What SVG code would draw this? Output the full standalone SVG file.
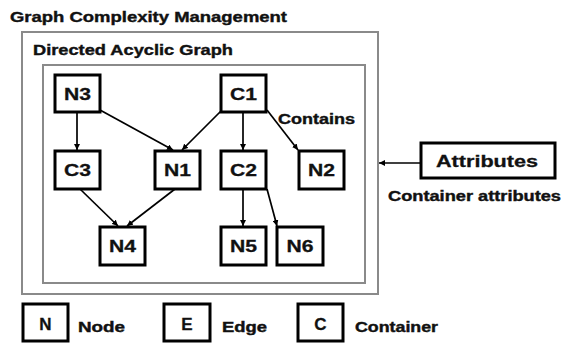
<svg xmlns="http://www.w3.org/2000/svg" width="562" height="345" viewBox="0 0 562 345">
<defs>
<marker id="ah" viewBox="0 0 10 10" refX="10" refY="5" markerWidth="6" markerHeight="6" orient="auto" markerUnits="userSpaceOnUse">
<path d="M0,0 L10,5 L0,10 z" fill="#000"/>
</marker>
<style>
.t{font-family:"Liberation Sans",Arial,sans-serif;font-weight:bold;fill:#111;stroke:#111;stroke-width:0.4}
.frame{fill:none;stroke:#8a8a8a;stroke-width:2}
.nb{fill:#fff;stroke:#000;stroke-width:3}
.nl{font-family:"Liberation Sans",Arial,sans-serif;font-weight:bold;font-size:17px;fill:#111;stroke:#111;stroke-width:0.3;text-anchor:middle}
.e{stroke:#000;stroke-width:1.7;fill:none;marker-end:url(#ah)}
</style>
</defs>
<rect width="562" height="345" fill="#fff"/>
<text class="t" x="10" y="22" font-size="15" textLength="277" lengthAdjust="spacingAndGlyphs">Graph Complexity Management</text>
<g id="outer">
<rect class="frame" x="22" y="32" width="356" height="262"/>
<text class="t" x="33" y="55" font-size="15" textLength="200" lengthAdjust="spacingAndGlyphs">Directed Acyclic Graph</text>
</g>
<g id="dag">
<rect class="frame" x="43" y="65" width="322" height="218"/>
</g>
<g id="edges">
<line class="e" x1="77" y1="112" x2="77" y2="150"/>
<line class="e" x1="100" y1="110" x2="173" y2="150"/>
<line class="e" x1="221" y1="111" x2="182" y2="150"/>
<line class="e" x1="243" y1="112" x2="243" y2="150"/>
<line class="e" x1="267" y1="110" x2="298" y2="150"/>
<line class="e" x1="80" y1="189" x2="118" y2="226"/>
<line class="e" x1="175" y1="189" x2="127" y2="226"/>
<line class="e" x1="243" y1="189" x2="243" y2="226"/>
<line class="e" x1="267" y1="189" x2="277" y2="226"/>
<line class="e" x1="420" y1="163" x2="379" y2="163"/>
<text class="t" x="278" y="124" font-size="14" textLength="77" lengthAdjust="spacingAndGlyphs">Contains</text>
</g>
<g id="N3"><rect class="nb" x="55" y="75" width="45" height="37"/><text class="nl" x="77.5" y="100" textLength="27" lengthAdjust="spacingAndGlyphs">N3</text></g>
<g id="C1"><rect class="nb" x="221" y="75" width="45" height="37"/><text class="nl" x="243.5" y="100" textLength="27" lengthAdjust="spacingAndGlyphs">C1</text></g>
<g id="C3"><rect class="nb" x="55" y="151" width="45" height="38"/><text class="nl" x="77.5" y="176" textLength="27" lengthAdjust="spacingAndGlyphs">C3</text></g>
<g id="N1"><rect class="nb" x="155" y="151" width="45" height="38"/><text class="nl" x="177.5" y="176" textLength="27" lengthAdjust="spacingAndGlyphs">N1</text></g>
<g id="C2"><rect class="nb" x="221" y="151" width="45" height="38"/><text class="nl" x="243.5" y="176" textLength="27" lengthAdjust="spacingAndGlyphs">C2</text></g>
<g id="N2"><rect class="nb" x="299" y="151" width="45" height="38"/><text class="nl" x="321.5" y="176" textLength="27" lengthAdjust="spacingAndGlyphs">N2</text></g>
<g id="N4"><rect class="nb" x="100" y="227" width="45" height="38"/><text class="nl" x="122.5" y="252" textLength="27" lengthAdjust="spacingAndGlyphs">N4</text></g>
<g id="N5"><rect class="nb" x="221" y="227" width="45" height="38"/><text class="nl" x="243.5" y="252" textLength="27" lengthAdjust="spacingAndGlyphs">N5</text></g>
<g id="N6"><rect class="nb" x="277" y="227" width="46" height="38"/><text class="nl" x="300" y="252" textLength="27" lengthAdjust="spacingAndGlyphs">N6</text></g>
<g id="Attributes">
<rect class="nb" x="421" y="143" width="134" height="35"/>
<text class="nl" x="487" y="167" textLength="102" lengthAdjust="spacingAndGlyphs">Attributes</text>
<text class="t" x="388" y="201" font-size="14" textLength="173" lengthAdjust="spacingAndGlyphs">Container attributes</text>
</g>
<g id="legend-node"><rect class="nb" x="23" y="304" width="45" height="37"/><text class="nl" x="45.5" y="330" font-size="17">N</text><text class="t" x="78" y="332" font-size="14" textLength="47" lengthAdjust="spacingAndGlyphs">Node</text></g>
<g id="legend-edge"><rect class="nb" x="164" y="304" width="46" height="37"/><text class="nl" x="187" y="330" font-size="17">E</text><text class="t" x="222" y="332" font-size="14" textLength="45" lengthAdjust="spacingAndGlyphs">Edge</text></g>
<g id="legend-container"><rect class="nb" x="298" y="304" width="45" height="37"/><text class="nl" x="320.5" y="330" font-size="17">C</text><text class="t" x="355" y="332" font-size="14" textLength="83" lengthAdjust="spacingAndGlyphs">Container</text></g>
</svg>
